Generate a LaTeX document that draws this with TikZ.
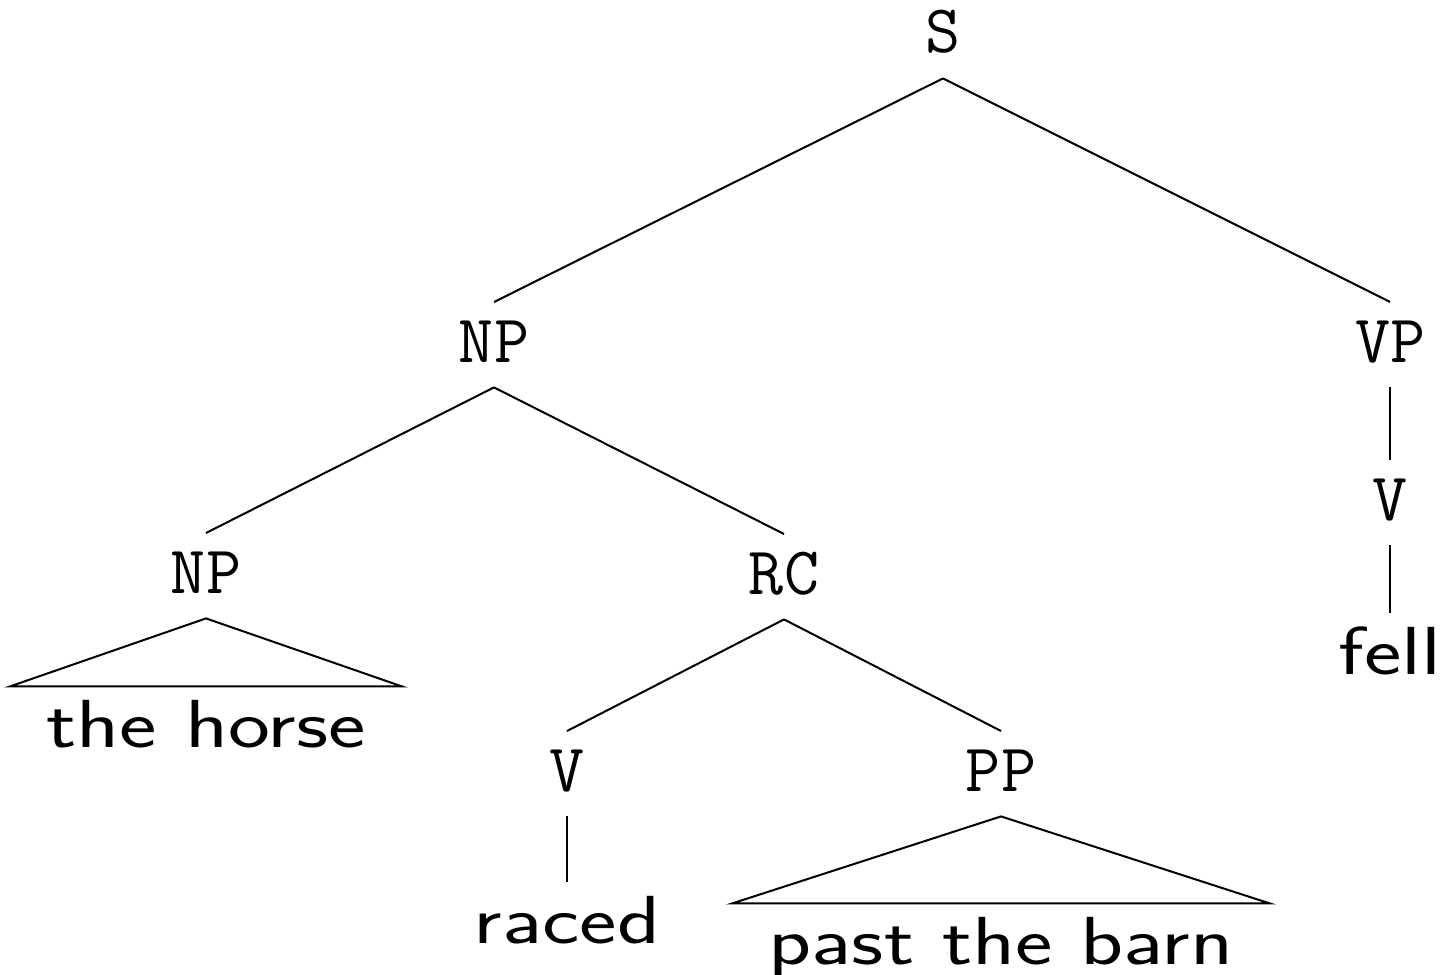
\documentclass[tikz,border=0pt]{standalone}
\usepackage{fontspec}
\usepackage{graphicx}
\usepackage{tikz}

\newcommand{\widesf}[1]{\scalebox{1.31}[1]{#1}}

\begin{document}
\begin{tikzpicture}[x=0.5pt,y=-0.5pt]
\tikzset{cat/.style = {font=\fontsize{34}{40}\selectfont\ttfamily,anchor=base,
  text height=20.8pt,text depth=3.5pt,inner ysep=9pt}}
\tikzset{word/.style = {font=\fontsize{34}{40}\selectfont\sffamily,anchor=base,
  text height=23.6pt,text depth=0pt,inner ysep=6.5pt,inner xsep=18pt}}
\tikzset{edge/.style = {line width=1pt}}
\useasboundingbox (0,0) rectangle (1443,974);
% categories
\node[cat] (s) at (943,53) {S};
\node[cat] (np) at (494,362) {NP};
\node[cat] (vp) at (1390,362) {VP};
\node[cat] (vf) at (1390,520) {V};
\node[cat] (npd) at (206,593) {NP};
\node[cat] (rc) at (784,594) {RC};
\node[cat] (vr) at (567,791) {V};
\node[cat] (pp) at (1001,791) {PP};
% words
\node[word] (fell) at (1390,674) {\widesf{fell}};
\node[word] (horse) at (206,747) {\widesf{the horse}};
\node[word] (raced) at (567,943) {\widesf{raced}};
\node[word] (barn) at (1001,964) {\widesf{past the barn}};
%edges
\draw[edge] (s.south) -- (np.north);
\draw[edge] (s.south) -- (vp.north);
\draw[edge] (np.south) -- (npd.north);
\draw[edge] (np.south) -- (rc.north);
\draw[edge] (vp.south) -- (vf.north);
\draw[edge] (vf.south) -- (fell.north);
\draw[edge] (rc.south) -- (vr.north);
\draw[edge] (rc.south) -- (pp.north);
\draw[edge] (vr.south) -- (raced.north);
\draw[edge] (npd.south) -- (horse.north west) -- (horse.north east) -- cycle;
\draw[edge] (pp.south) -- (barn.north west) -- (barn.north east) -- cycle;

\end{tikzpicture}
\end{document}
